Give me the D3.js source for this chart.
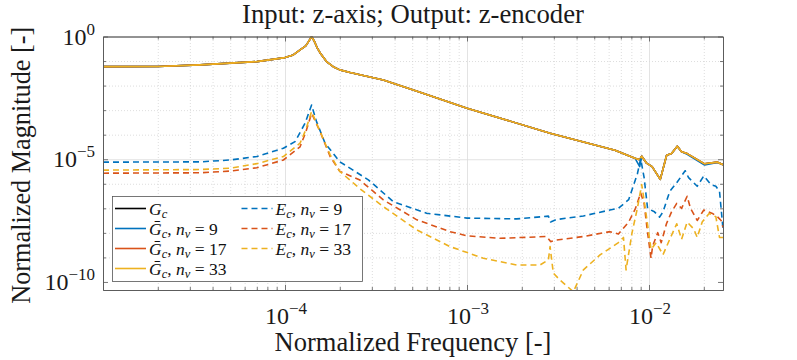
<!DOCTYPE html>
<html>
<head>
<meta charset="utf-8">
<script src="https://cdnjs.cloudflare.com/ajax/libs/d3/7.8.5/d3.min.js"></script>
<style>
  body { margin: 0; background: #fff; }
  .grid-major line { stroke: #dcdcdc; stroke-width: 0.8; }
  .grid-minor line { stroke: #cfcfcf; stroke-width: 0.7; stroke-dasharray: 1,2; }
  .grid-major path, .grid-minor path { display: none; }
  .axis path, .axis line { stroke: #555; stroke-width: 0.8; }
  .tick-label { font-size: 24px; }
  .sup { font-size: 17px; }
  .legend-text { font-size: 17.5px; }
</style>
</head>
<body>
<svg id="chart" width="797" height="360"></svg>
<script>
var width = 797;
var height = 360;
var margin = {top: 36.5, right: 74, bottom: 70, left: 103};

// model and reduced models, solid lines
var freqG = [1.0e-5, 2.0e-5, 3.41e-5, 7.0e-5, 1.0e-4, 1.11e-4, 1.21e-4, 1.30e-4, 1.35e-4, 1.40e-4,
             1.45e-4, 1.50e-4, 1.56e-4, 1.69e-4, 1.84e-4, 2.0e-4, 2.28e-4, 2.58e-4, 3.47e-4, 5.52e-4,
             1.0e-3, 2.86e-3, 6.5e-3, 8.37e-3, 8.89e-3, 9.12e-3, 9.7e-3, 1.04e-2, 1.153e-2, 1.25e-2,
             1.33e-2, 1.43e-2, 1.51e-2, 1.62e-2, 2.02e-2, 2.38e-2, 2.55e-2];
var magG = [5.9e-2, 6.0e-2, 7.0e-2, 9.5e-2, 1.38e-1, 1.78e-1, 2.84e-1, 4.17e-1, 6.3e-1, 1.0,
            6.3e-1, 3.55e-1, 2.14e-1, 9.5e-2, 5.9e-2, 4.37e-2, 3.4e-2, 2.75e-2, 1.7e-2, 5.37e-3,
            1.2e-3, 1.15e-4, 2.34e-5, 1.1e-5, 9.5e-6, 1.32e-5, 6.9e-6, 5.0e-6, 1.51e-6, 1.45e-5,
            1.7e-5, 3.39e-5, 2.0e-5, 1.7e-5, 6.5e-6, 7.6e-6, 6.0e-6];
var magGbar9 = [5.9e-2, 6.0e-2, 7.0e-2, 9.5e-2, 1.38e-1, 1.78e-1, 2.84e-1, 4.17e-1, 6.3e-1, 1.0,
                6.3e-1, 3.55e-1, 2.14e-1, 9.5e-2, 5.9e-2, 4.37e-2, 3.4e-2, 2.75e-2, 1.7e-2, 5.37e-3,
                1.2e-3, 1.15e-4, 2.34e-5, 1.1e-5, 5.0e-6, 1.32e-5, 6.9e-6, 5.0e-6, 1.51e-6, 1.45e-5,
                1.7e-5, 3.39e-5, 2.0e-5, 1.6e-5, 5.8e-6, 7.4e-6, 6.0e-6];

// error systems, dashed lines
var freqE9 = [1.0e-5, 3.41e-5, 4.99e-5, 7.0e-5, 9.8e-5, 1.135e-4, 1.29e-4, 1.40e-4, 1.49e-4, 1.66e-4,
              2.0e-4, 2.87e-4, 3.94e-4, 6.0e-4, 1.0e-3, 1.87e-3, 2.80e-3, 2.88e-3, 3.11e-3, 4.36e-3,
              6.1e-3, 6.79e-3, 7.73e-3, 8.63e-3, 9.0e-3, 9.4e-3, 9.82e-3, 1.071e-2, 1.143e-2, 1.194e-2,
              1.30e-2, 1.42e-2, 1.58e-2, 1.65e-2, 1.84e-2, 2.0e-2, 2.19e-2, 2.33e-2, 2.44e-2, 2.55e-2];
var magE9 = [7.6e-6, 7.8e-6, 9.3e-6, 1.29e-5, 2.8e-5, 5.2e-5, 2.95e-4, 1.62e-3, 3.4e-4, 4.5e-5,
             7.9e-6, 1.45e-6, 1.86e-7, 6.3e-8, 4.0e-8, 3.7e-8, 4.8e-8, 2.8e-8, 3.5e-8, 4.9e-8,
             8.5e-8, 1.0e-7, 2.24e-7, 2.51e-6, 1.05e-5, 1.78e-6, 1.0e-7, 7.2e-8, 4.4e-8, 7.2e-8,
             4.9e-7, 1.1e-6, 3.4e-6, 1.78e-6, 7.9e-7, 2.09e-6, 9.3e-7, 7.9e-7, 4.9e-7, 1.45e-8];

var freqE17 = [1.0e-5, 3.41e-5, 4.99e-5, 7.0e-5, 9.8e-5, 1.21e-4, 1.30e-4, 1.40e-4, 1.56e-4, 1.77e-4,
               2.0e-4, 2.58e-4, 3.47e-4, 5.3e-4, 8.07e-4, 1.0e-3, 1.52e-3, 2.74e-3, 2.88e-3, 3.11e-3,
               4.36e-3, 6.1e-3, 6.79e-3, 7.73e-3, 8.43e-3, 9.0e-3, 9.4e-3, 9.82e-3, 1.026e-2, 1.047e-2,
               1.117e-2, 1.167e-2, 1.247e-2, 1.33e-2, 1.42e-2, 1.51e-2, 1.62e-2, 1.69e-2, 1.84e-2, 2.0e-2,
               2.23e-2, 2.38e-2, 2.49e-2, 2.55e-2];
var magE17 = [2.7e-6, 2.8e-6, 3.3e-6, 4.5e-6, 9.3e-6, 3.2e-5, 1.26e-4, 7.4e-4, 1.32e-4, 1.29e-5,
              3.2e-6, 1.41e-6, 2.2e-7, 3.4e-8, 1.12e-8, 7.6e-9, 6.0e-9, 7.1e-9, 4.4e-9, 5.1e-9,
              7.1e-9, 1.12e-8, 8.9e-9, 2.75e-8, 1.0e-7, 4.2e-7, 1.58e-7, 1.02e-8, 9.3e-10, 2.9e-9,
              1.02e-8, 4.0e-9, 2.34e-8, 7.2e-8, 1.58e-7, 1.0e-7, 3.1e-7, 1.0e-7, 3.2e-8, 8.5e-8,
              6.2e-8, 4.5e-8, 3.2e-8, 1.7e-8];

var freqE33 = [1.0e-5, 3.41e-5, 4.99e-5, 7.0e-5, 9.8e-5, 1.21e-4, 1.30e-4, 1.40e-4, 1.56e-4, 1.77e-4,
               2.0e-4, 2.58e-4, 3.47e-4, 5.3e-4, 8.07e-4, 1.23e-3, 1.87e-3, 2.52e-3, 2.80e-3, 2.86e-3,
               2.98e-3, 3.24e-3, 3.84e-3, 4.36e-3, 5.38e-3, 6.79e-3, 7.24e-3, 7.48e-3, 8.07e-3, 8.63e-3,
               9.12e-3, 9.6e-3, 1.026e-2, 1.094e-2, 1.194e-2, 1.30e-2, 1.42e-2, 1.51e-2, 1.62e-2, 1.76e-2,
               1.84e-2, 1.96e-2, 2.14e-2, 2.33e-2, 2.44e-2, 2.55e-2];
var magE33 = [3.6e-6, 3.8e-6, 4.3e-6, 6.6e-6, 1.29e-5, 4.5e-5, 1.58e-4, 8.7e-4, 1.32e-4, 1.51e-5,
              3.2e-6, 6.3e-7, 1.17e-7, 1.32e-8, 2.75e-9, 9.3e-10, 4.9e-10, 4.9e-10, 7.9e-10, 2.75e-9,
              2.3e-10, 1.2e-10, 4.0e-11, 3.1e-10, 1.26e-9, 4.0e-9, 6.5e-9, 3.1e-10, 1.02e-8, 1.0e-7,
              9.3e-7, 7.2e-8, 2.1e-9, 4.0e-9, 1.29e-9, 5.5e-9, 2.34e-8, 5.5e-9, 2.75e-8, 1.45e-8,
              6.5e-9, 2.75e-8, 6.2e-8, 4.5e-8, 6.5e-9, 6.5e-9];

var xMajor = [1e-4, 1e-3, 1e-2];
var xLabels = ['\u22124', '\u22123', '\u22122'];
var yMajor = [1, 1e-5, 1e-10];
var yLabels = ['0', '\u22125', '\u221210'];
var yMinor = [1e-1, 1e-2, 1e-3, 1e-4, 1e-6, 1e-7, 1e-8, 1e-9];

var colors = {blue: '#0072BD', red: '#D95319', yellow: '#EDB120', black: '#000000'};

var series = [
    {freq: freqG, mag: magG, color: colors.black, dash: null},
    {freq: freqG, mag: magGbar9, color: colors.blue, dash: null},
    {freq: freqG, mag: magG, color: colors.red, dash: null},
    {freq: freqG, mag: magG, color: colors.yellow, dash: null},
    {freq: freqE9, mag: magE9, color: colors.blue, dash: '6,4'},
    {freq: freqE17, mag: magE17, color: colors.red, dash: '6,4'},
    {freq: freqE33, mag: magE33, color: colors.yellow, dash: '6,4'}
];

var serifFont = 'Liberation Serif';

var svg = d3.select('#chart');
var plotW = width - margin.left - margin.right;
var plotH = height - margin.top - margin.bottom;

var x = d3.scaleLog().domain([1e-5, 2.55e-2]).range([margin.left, margin.left + plotW]);
var y = d3.scaleLog().domain([4.7e-11, 1]).range([margin.top + plotH, margin.top]);

// x minor ticks 2..9 in each decade
var xMinor = [];
[1e-5, 1e-4, 1e-3, 1e-2].forEach(function(dec) {
    for (var k = 2; k <= 9; k++) {
        var v = dec * k;
        if (v < 2.55e-2) xMinor.push(v);
    }
});

// grid
svg.append('g').attr('class', 'grid-minor')
   .attr('transform', 'translate(0,' + (margin.top + plotH) + ')')
   .call(d3.axisBottom(x).tickValues(xMinor).tickSize(-plotH).tickFormat(''));
svg.append('g').attr('class', 'grid-minor')
   .attr('transform', 'translate(' + margin.left + ',0)')
   .call(d3.axisLeft(y).tickValues(yMinor).tickSize(-plotW).tickFormat(''));
svg.append('g').attr('class', 'grid-major')
   .attr('transform', 'translate(0,' + (margin.top + plotH) + ')')
   .call(d3.axisBottom(x).tickValues(xMajor).tickSize(-plotH).tickFormat(''));
svg.append('g').attr('class', 'grid-major')
   .attr('transform', 'translate(' + margin.left + ',0)')
   .call(d3.axisLeft(y).tickValues(yMajor.slice(1, 2)).tickSize(-plotW).tickFormat(''));

// curves
svg.append('clipPath').attr('id', 'plotClip')
   .append('rect')
   .attr('x', margin.left).attr('y', margin.top)
   .attr('width', plotW).attr('height', plotH);

var line = d3.line()
    .x(function(d) { return x(d[0]); })
    .y(function(d) { return y(d[1]); });

svg.append('g').attr('clip-path', 'url(#plotClip)')
   .selectAll('path')
   .data(series)
   .enter()
   .append('path')
   .attr('d', function(s) {
       return line(s.freq.map(function(f, i) { return [f, s.mag[i]]; }));
   })
   .attr('fill', 'none')
   .attr('stroke', function(s) { return s.color; })
   .attr('stroke-width', 1.6)
   .attr('stroke-linejoin', 'round')
   .attr('stroke-dasharray', function(s) { return s.dash; });

// axes box with inside ticks
var bottomT = 'translate(0,' + (margin.top + plotH) + ')';
var topT = 'translate(0,' + margin.top + ')';
var leftT = 'translate(' + margin.left + ',0)';
var rightT = 'translate(' + (margin.left + plotW) + ',0)';

var boxAxes = [
    [d3.axisBottom(x).tickValues(xMajor).tickSizeInner(-5), bottomT],
    [d3.axisBottom(x).tickValues(xMinor).tickSizeInner(-3), bottomT],
    [d3.axisTop(x).tickValues(xMajor).tickSizeInner(-5), topT],
    [d3.axisTop(x).tickValues(xMinor).tickSizeInner(-3), topT],
    [d3.axisLeft(y).tickValues(yMajor).tickSizeInner(-5), leftT],
    [d3.axisLeft(y).tickValues(yMinor).tickSizeInner(-3), leftT],
    [d3.axisRight(y).tickValues(yMajor).tickSizeInner(-5), rightT],
    [d3.axisRight(y).tickValues(yMinor).tickSizeInner(-3), rightT]
];
boxAxes.forEach(function(a) {
    svg.append('g').attr('class', 'axis').attr('transform', a[1])
       .call(a[0].tickSizeOuter(0).tickFormat(''));
});

// tick labels 10^n
var xt = svg.append('g').selectAll('text')
    .data(xMajor)
    .enter()
    .append('text')
    .attr('class', 'tick-label')
    .attr('font-family', serifFont)
    .attr('fill', '#1a1a1a')
    .attr('x', function(d) { return x(d) + 1; })
    .attr('y', margin.top + plotH + 34)
    .attr('text-anchor', 'middle');
xt.append('tspan').text('10');
xt.append('tspan').attr('class', 'sup').attr('dy', -10).text(function(d, i) { return xLabels[i]; });

var yt = svg.append('g').selectAll('text')
    .data(yMajor)
    .enter()
    .append('text')
    .attr('class', 'tick-label')
    .attr('font-family', serifFont)
    .attr('fill', '#1a1a1a')
    .attr('x', margin.left - 8)
    .attr('y', function(d) { return y(d) + 8; })
    .attr('text-anchor', 'end');
yt.append('tspan').text('10');
yt.append('tspan').attr('class', 'sup').attr('dy', -10).text(function(d, i) { return yLabels[i]; });

// fit a label to the width it has in the reference
function fitText(sel, target) {
    sel.attr('font-family', serifFont).attr('fill', '#1a1a1a').attr('font-size', 20);
    var w = sel.node().getComputedTextLength();
    sel.attr('font-size', 20 * target / w);
    return sel;
}

fitText(svg.append('text')
   .attr('x', margin.left + plotW / 2)
   .attr('y', 23)
   .attr('text-anchor', 'middle')
   .text('Input: z-axis; Output: z-encoder'), 342);

fitText(svg.append('text')
   .attr('x', margin.left + plotW / 2)
   .attr('y', 351)
   .attr('text-anchor', 'middle')
   .text('Normalized Frequency [-]'), 277);

fitText(svg.append('text')
   .attr('transform', 'translate(30,' + (margin.top + plotH / 2 + 2) + ') rotate(-90)')
   .attr('text-anchor', 'middle')
   .text('Normalized Magnitude [-]'), 277);

// legend
var legendItems = [
    {label: 'G', bar: false, nv: null, color: colors.black, dash: null, col: 0, row: 0},
    {label: 'G', bar: true, nv: '9', color: colors.blue, dash: null, col: 0, row: 1},
    {label: 'G', bar: true, nv: '17', color: colors.red, dash: null, col: 0, row: 2},
    {label: 'G', bar: true, nv: '33', color: colors.yellow, dash: null, col: 0, row: 3},
    {label: 'E', bar: false, nv: '9', color: colors.blue, dash: '6,4', col: 1, row: 0},
    {label: 'E', bar: false, nv: '17', color: colors.red, dash: '6,4', col: 1, row: 1},
    {label: 'E', bar: false, nv: '33', color: colors.yellow, dash: '6,4', col: 1, row: 2}
];

var legend = svg.append('g');
legend.append('rect')
      .attr('x', 112.5).attr('y', 196.5)
      .attr('width', 250).attr('height', 85)
      .attr('fill', '#fff')
      .attr('stroke', '#555')
      .attr('stroke-width', 0.8);

var entry = legend.selectAll('.entry')
    .data(legendItems)
    .enter()
    .append('g')
    .attr('class', 'entry')
    .attr('transform', function(d) {
        return 'translate(' + (115 + d.col * 126.5) + ',' + (208.5 + d.row * 20) + ')';
    });

entry.append('line')
     .attr('x1', 0).attr('x2', 31)
     .attr('y1', 0).attr('y2', 0)
     .attr('stroke', function(d) { return d.color; })
     .attr('stroke-width', 1.6)
     .attr('stroke-dasharray', function(d) { return d.dash; });

var lt = entry.append('text')
    .attr('class', 'legend-text')
    .attr('font-family', serifFont)
    .attr('fill', '#111')
    .attr('x', 34)
    .attr('y', 6);

lt.append('tspan').style('font-style', 'italic')
  .text(function(d) { return d.bar ? 'G\u0304' : d.label; });
lt.append('tspan').style('font-style', 'italic').style('font-size', '12.5px').attr('dy', 3).text('c');
lt.filter(function(d) { return d.nv; })
  .append('tspan').attr('dy', -3).text(', ');
lt.filter(function(d) { return d.nv; })
  .append('tspan').style('font-style', 'italic').text('n');
lt.filter(function(d) { return d.nv; })
  .append('tspan').style('font-style', 'italic').style('font-size', '12.5px').attr('dy', 3).text('v');
lt.filter(function(d) { return d.nv; })
  .append('tspan').attr('dy', -3).text(function(d) { return ' = ' + d.nv; });
</script>
</body>
</html>
